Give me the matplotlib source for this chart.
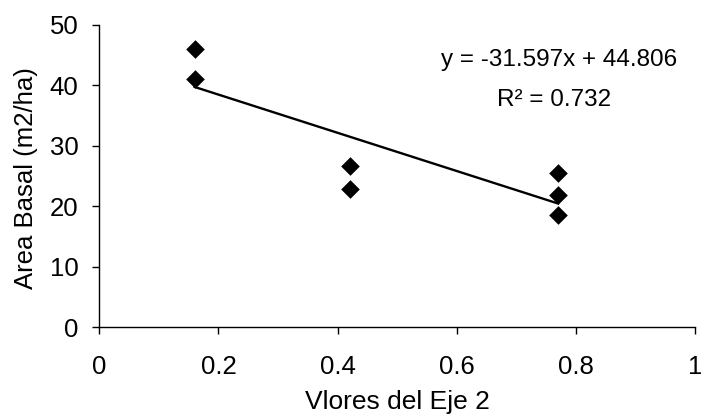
import numpy as np
import matplotlib
matplotlib.use("Agg")
import matplotlib.pyplot as plt

plt.rcParams['font.family'] = ['Liberation Sans', 'DejaVu Sans']

# axis 2 scores and basal area per plot
eje2 = [0.16, 0.16, 0.42, 0.42, 0.77, 0.77, 0.77]
area_basal = [46.0, 41.0, 26.7, 22.8, 25.6, 21.8, 18.6]

# linear trend as reported
pendiente = -31.597
intercepto = 44.806
r2 = 0.732

fig = plt.figure(figsize=(7.01, 4.2), dpi=100)
ax = fig.add_axes([0.1417, 0.2207, 0.8498, 0.7198])

ax.scatter(eje2, area_basal, marker='D', s=90, color='black', lw=0, zorder=3)

xs = np.array([min(eje2), max(eje2)])
ax.plot(xs, pendiente * xs + intercepto, color='black', lw=1.7)

ax.set_xlim(0, 1)
ax.set_ylim(0, 50)
ax.set_xticks(np.arange(0, 1.01, 0.2))
ax.set_xticklabels(['0', '0.2', '0.4', '0.6', '0.8', '1'])
ax.set_yticks(range(0, 51, 10))

for s in ['top', 'right']:
    ax.spines[s].set_visible(False)
for s in ['left', 'bottom']:
    ax.spines[s].set_linewidth(1.0)
ax.tick_params(direction='out', length=5, width=1.0, labelsize=18.5)
ax.tick_params(axis='x', pad=15)
ax.tick_params(axis='y', pad=10)

ax.set_xlabel('Vlores del Eje 2', fontsize=19)
ax.set_ylabel('Area Basal (m2/ha)', fontsize=18.5)
ax.xaxis.set_label_coords(0.5, -0.208)
ax.yaxis.set_label_coords(-0.103, 0.495)

ax.text(0.771, 0.864, 'y = %.3fx + %.3f' % (pendiente, intercepto),
        transform=ax.transAxes, ha='center', va='baseline', fontsize=17.5)
ax.text(0.763, 0.732, 'R\u00b2 = %.3f' % r2,
        transform=ax.transAxes, ha='center', va='baseline', fontsize=17.5)

fig.savefig('out.png', dpi=100)
